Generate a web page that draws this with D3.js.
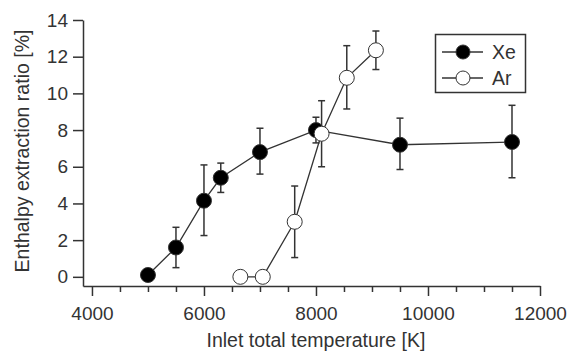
<!DOCTYPE html>
<html>
<head>
<meta charset="utf-8">
<script src="https://cdn.jsdelivr.net/npm/d3@7"></script>
<style>
  body { margin: 0; background: #fff; }
  text { font-family: "Liberation Sans", Arial, sans-serif; fill: #333; }
</style>
</head>
<body>
<svg id="chart" width="568" height="351"></svg>
<script>
// Xe series
var xeTemp = [5000, 5500, 6000, 6300, 7000, 8000, 9500, 11500],
  xeRatio = [0.1, 1.6, 4.15, 5.4, 6.8, 8.0, 7.2, 7.35],
  xeHigh = [0.1, 2.7, 6.1, 6.2, 8.1, 8.7, 8.65, 9.35],
  xeLow = [0.1, 0.5, 2.25, 4.6, 5.6, 7.3, 5.85, 5.4];

// Ar series
var arTemp = [6650, 7050, 7620, 8100, 8550, 9070],
  arRatio = [0, 0, 3.0, 7.8, 10.85, 12.35],
  arHigh = [0, 0, 4.95, 9.6, 12.6, 13.4],
  arLow = [0, 0, 1.05, 6.0, 9.15, 11.3];

var xTicks = [4000, 6000, 8000, 10000, 12000],
  xMinor = [4500, 5000, 5500, 6500, 7000, 7500, 8500, 9000, 9500, 10500, 11000, 11500],
  yTicks = [0, 2, 4, 6, 8, 10, 12, 14];

var svg = d3.select("#chart"),
  ink = "#333";

var x = d3.scaleLinear()
  .domain([3840, 12000])
  .range([83, 540]);

var y = d3.scaleLinear()
  .domain([-0.5, 14])
  .range([286, 20]);

// axes
svg.append("g")
  .attr("transform", "translate(0,286)")
  .call(d3.axisBottom(x).tickValues(xTicks).tickFormat(d3.format("d"))
    .tickSize(10).tickPadding(11).tickSizeOuter(0));

svg.append("g")
  .attr("transform", "translate(0,286)")
  .call(d3.axisBottom(x).tickValues(xMinor).tickSize(6).tickFormat(""))
  .select(".domain").remove();

svg.append("g")
  .attr("transform", "translate(83,0)")
  .call(d3.axisLeft(y).tickValues(yTicks).tickSize(10).tickPadding(5).tickSizeOuter(0));

svg.selectAll(".domain, .tick line")
  .attr("stroke", ink)
  .attr("stroke-width", 1.5);
svg.selectAll(".tick text")
  .attr("fill", ink)
  .style("font-size", "19px")
  .style("font-family", "Liberation Sans, Arial, sans-serif");

// axis titles
svg.append("text")
  .attr("x", 316)
  .attr("y", 347)
  .attr("text-anchor", "middle")
  .style("font-size", "19.5px")
  .text("Inlet total temperature [K]");

svg.append("text")
  .attr("transform", "translate(29,151) rotate(-90)")
  .attr("text-anchor", "middle")
  .style("font-size", "19.5px")
  .text("Enthalpy extraction ratio [%]");

var line = d3.line()
  .x(function (d) { return x(d.t); })
  .y(function (d) { return y(d.v); });

function drawSeries(temp, ratio, high, low, fill) {
  var data = temp.map(function (t, i) {
    return { t: t, v: ratio[i], hi: high[i], lo: low[i] };
  });
  var g = svg.append("g");

  g.append("path")
    .datum(data)
    .attr("d", line)
    .attr("fill", "none")
    .attr("stroke", ink)
    .attr("stroke-width", 1.3);

  var eb = g.selectAll(".err")
    .data(data.filter(function (d) { return d.hi > d.lo; }))
    .enter().append("g")
    .attr("stroke", ink)
    .attr("stroke-width", 1.5);

  eb.append("line")
    .attr("x1", function (d) { return x(d.t); })
    .attr("x2", function (d) { return x(d.t); })
    .attr("y1", function (d) { return y(d.hi); })
    .attr("y2", function (d) { return y(d.lo); });
  eb.append("line")
    .attr("x1", function (d) { return x(d.t) - 3.5; })
    .attr("x2", function (d) { return x(d.t) + 3.5; })
    .attr("y1", function (d) { return y(d.hi); })
    .attr("y2", function (d) { return y(d.hi); });
  eb.append("line")
    .attr("x1", function (d) { return x(d.t) - 3.5; })
    .attr("x2", function (d) { return x(d.t) + 3.5; })
    .attr("y1", function (d) { return y(d.lo); })
    .attr("y2", function (d) { return y(d.lo); });

  g.selectAll("circle")
    .data(data)
    .enter().append("circle")
    .attr("cx", function (d) { return x(d.t); })
    .attr("cy", function (d) { return y(d.v); })
    .attr("r", 7.5)
    .attr("fill", fill)
    .attr("stroke", ink)
    .attr("stroke-width", 1);
}

drawSeries(xeTemp, xeRatio, xeHigh, xeLow, "#000");
drawSeries(arTemp, arRatio, arHigh, arLow, "#fff");

// legend
var legend = svg.append("g");
legend.append("rect")
  .attr("x", 435.5)
  .attr("y", 34.5)
  .attr("width", 90)
  .attr("height", 58)
  .attr("fill", "#fff")
  .attr("stroke", ink)
  .attr("stroke-width", 1.5);

[["Xe", "#000", 52], ["Ar", "#fff", 78]].forEach(function (d) {
  legend.append("line")
    .attr("x1", 442).attr("x2", 483)
    .attr("y1", d[2]).attr("y2", d[2])
    .attr("stroke", ink)
    .attr("stroke-width", 1.3);
  legend.append("circle")
    .attr("cx", 463).attr("cy", d[2])
    .attr("r", 7)
    .attr("fill", d[1])
    .attr("stroke", ink);
  legend.append("text")
    .attr("x", 492)
    .attr("y", d[2] + 7)
    .style("font-size", "19.5px")
    .text(d[0]);
});
</script>
</body>
</html>
